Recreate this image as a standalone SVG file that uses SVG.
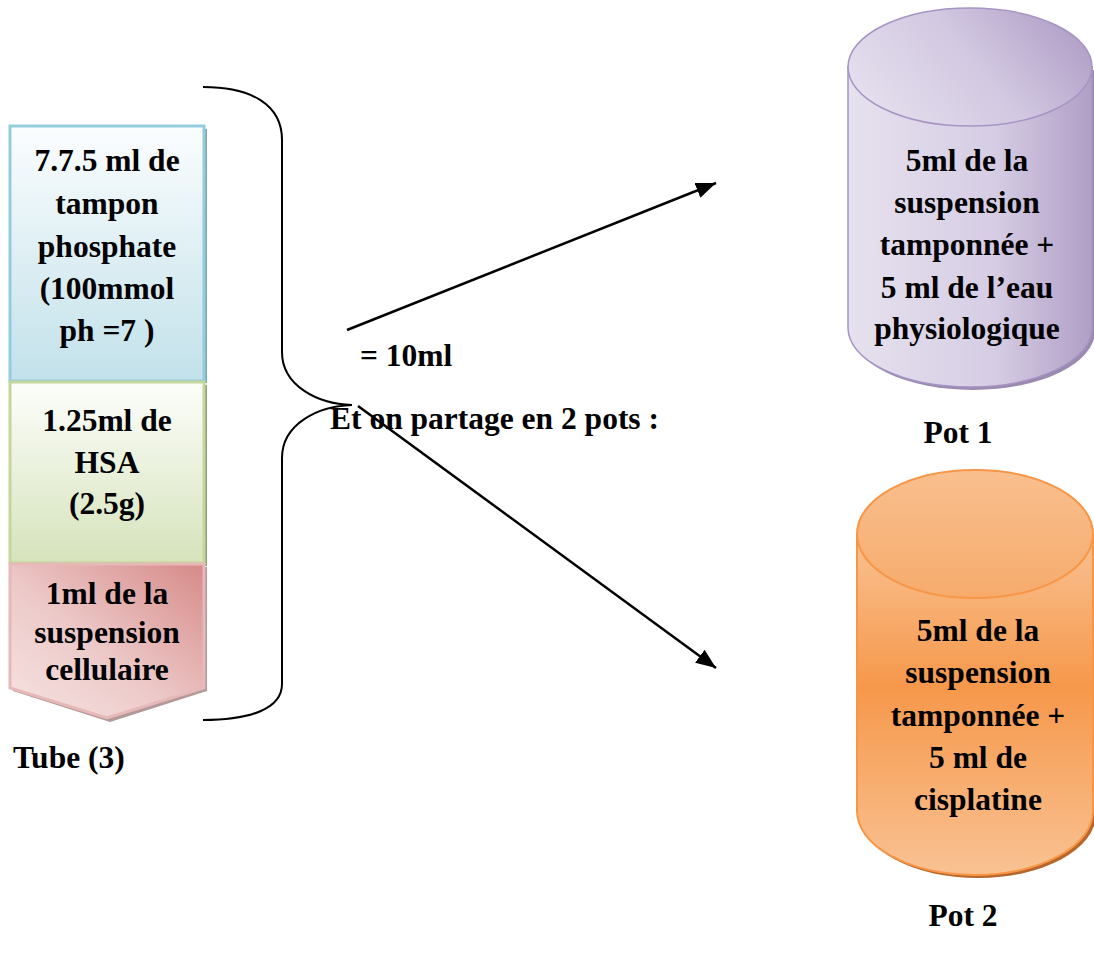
<svg xmlns="http://www.w3.org/2000/svg" width="1094" height="957" viewBox="0 0 1094 957">
  <style>
    .t { font-family: "Liberation Serif", "Times New Roman", serif; font-weight: bold; font-size: 31.5px; fill: #000; }
    .c { text-anchor: middle; }
    .conn { fill: none; stroke: #000; stroke-width: 2.5; }
    .brace { fill: none; stroke: #000; stroke-width: 2; }
  </style>
  <defs>
    <linearGradient id="gBlue" x1="0" y1="0" x2="0" y2="1">
      <stop offset="0" stop-color="#fbfdfe"/>
      <stop offset="1" stop-color="#c2e1ea"/>
    </linearGradient>
    <linearGradient id="gGreen" x1="0" y1="0" x2="0" y2="1">
      <stop offset="0" stop-color="#fdfefb"/>
      <stop offset="1" stop-color="#d5e3bb"/>
    </linearGradient>
    <linearGradient id="gRed" x1="1" y1="0" x2="0" y2="1">
      <stop offset="0" stop-color="#d68a88"/>
      <stop offset="0.55" stop-color="#ecc9c8"/>
      <stop offset="1" stop-color="#f6e4e3"/>
    </linearGradient>
    <linearGradient id="gPurple" x1="0" y1="0" x2="1" y2="0">
      <stop offset="0" stop-color="#e6e1ee"/>
      <stop offset="0.6" stop-color="#d6cde4"/>
      <stop offset="1" stop-color="#b09fc6"/>
    </linearGradient>
    <linearGradient id="gPurpleTop" x1="0" y1="0.6" x2="1" y2="0.2">
      <stop offset="0" stop-color="#e4deed"/>
      <stop offset="0.5" stop-color="#d2c8e1"/>
      <stop offset="1" stop-color="#ae9cc5"/>
    </linearGradient>
    <linearGradient id="gOrange" x1="0" y1="0" x2="0" y2="1">
      <stop offset="0" stop-color="#f9c293"/>
      <stop offset="0.45" stop-color="#f6984b"/>
      <stop offset="1" stop-color="#f9c293"/>
    </linearGradient>
    <linearGradient id="gOrangeTop" x1="0" y1="0" x2="0" y2="1">
      <stop offset="0" stop-color="#f9bf8e"/>
      <stop offset="1" stop-color="#f6ab6c"/>
    </linearGradient>
    <marker id="head" viewBox="0 0 20 16" refX="20" refY="8" markerWidth="20" markerHeight="16" markerUnits="userSpaceOnUse" orient="auto">
      <path d="M0,0 L20,8 L0,16 z" fill="#000"/>
    </marker>
  </defs>

  <!-- tube: three stacked layers -->
  <g id="layer-phosphate">
    <rect x="13" y="129" width="194" height="254" fill="#7fa9b2"/>
    <rect x="10" y="126" width="194" height="255" fill="url(#gBlue)" stroke="#93cddd" stroke-width="3"/>
    <text class="t c" x="107" y="171">7.7.5 ml de</text>
    <text class="t c" x="107" y="214">tampon</text>
    <text class="t c" x="107" y="257">phosphate</text>
    <text class="t c" x="107" y="299">(100mmol</text>
    <text class="t c" x="107" y="341">ph =7 )</text>
  </g>
  <g id="layer-hsa">
    <rect x="13" y="385" width="194" height="181" fill="#8fa276"/>
    <rect x="10" y="382" width="194" height="181" fill="url(#gGreen)" stroke="#c3d69b" stroke-width="3"/>
    <text class="t c" x="107" y="431">1.25ml de</text>
    <text class="t c" x="107" y="473">HSA</text>
    <text class="t c" x="107" y="514">(2.5g)</text>
  </g>
  <g id="layer-cells">
    <path d="M13,567 L207,567 L207,691 L110,722 L13,691 Z" fill="#b39999"/>
    <path d="M10,564 L204,564 L204,688 L107,718 L10,688 Z" fill="url(#gRed)" stroke="#e6b9b8" stroke-width="3"/>
    <text class="t c" x="107" y="604">1ml de la</text>
    <text class="t c" x="107" y="643">suspension</text>
    <text class="t c" x="107" y="680">cellulaire</text>
  </g>
  <g id="tube-label">
    <text class="t" x="13" y="768">Tube (3)</text>
  </g>

  <!-- grouping brace and split arrows -->
  <g id="connectors">
    <path class="brace" d="M203,87 C252,87 282,105 282,140 L282,352 C282,386 318,404 352,405 C318,406 282,424 282,458 L282,684 C282,708 252,720 203,720"/>
    <line class="conn" x1="347" y1="330" x2="716" y2="183" marker-end="url(#head)"/>
    <line class="conn" x1="358" y1="406" x2="716" y2="668" marker-end="url(#head)"/>
  </g>
  <g id="split-labels">
    <text class="t" x="360" y="366">= 10ml</text>
    <text class="t" x="330" y="429">Et on partage en 2 pots :</text>
  </g>

  <!-- pot 1 -->
  <g id="pot1">
    <path d="M851,70 L851,331 A122,59 0 0 0 1095,331 L1095,70 Z" fill="#9a8aaf"/>
    <path d="M848,67 L848,328 A122,59 0 0 0 1092,328 L1092,67 Z" fill="url(#gPurple)" stroke="#a694c4" stroke-width="1.5"/>
    <ellipse cx="970" cy="67" rx="122" ry="59" fill="url(#gPurpleTop)" stroke="#a694c4" stroke-width="1.5"/>
    <text class="t c" x="967" y="171">5ml de la</text>
    <text class="t c" x="967" y="213">suspension</text>
    <text class="t c" x="967" y="255">tamponnée +</text>
    <text class="t c" x="967" y="298">5 ml de l’eau</text>
    <text class="t c" x="967" y="339">physiologique</text>
  </g>
  <g id="pot1-label">
    <text class="t c" x="958" y="443">Pot 1</text>
  </g>

  <!-- pot 2 -->
  <g id="pot2">
    <path d="M860,537 L860,814 A118,64 0 0 0 1096,814 L1096,537 Z" fill="#b8662c"/>
    <path d="M857,534 L857,811 A118,64 0 0 0 1093,811 L1093,534 Z" fill="url(#gOrange)" stroke="#f79646" stroke-width="2"/>
    <ellipse cx="975" cy="534" rx="118" ry="64" fill="url(#gOrangeTop)" stroke="#f79646" stroke-width="2"/>
    <text class="t c" x="978" y="641">5ml de la</text>
    <text class="t c" x="978" y="683">suspension</text>
    <text class="t c" x="978" y="726">tamponnée +</text>
    <text class="t c" x="978" y="768">5 ml de</text>
    <text class="t c" x="978" y="810">cisplatine</text>
  </g>
  <g id="pot2-label">
    <text class="t c" x="963" y="926">Pot 2</text>
  </g>
</svg>
